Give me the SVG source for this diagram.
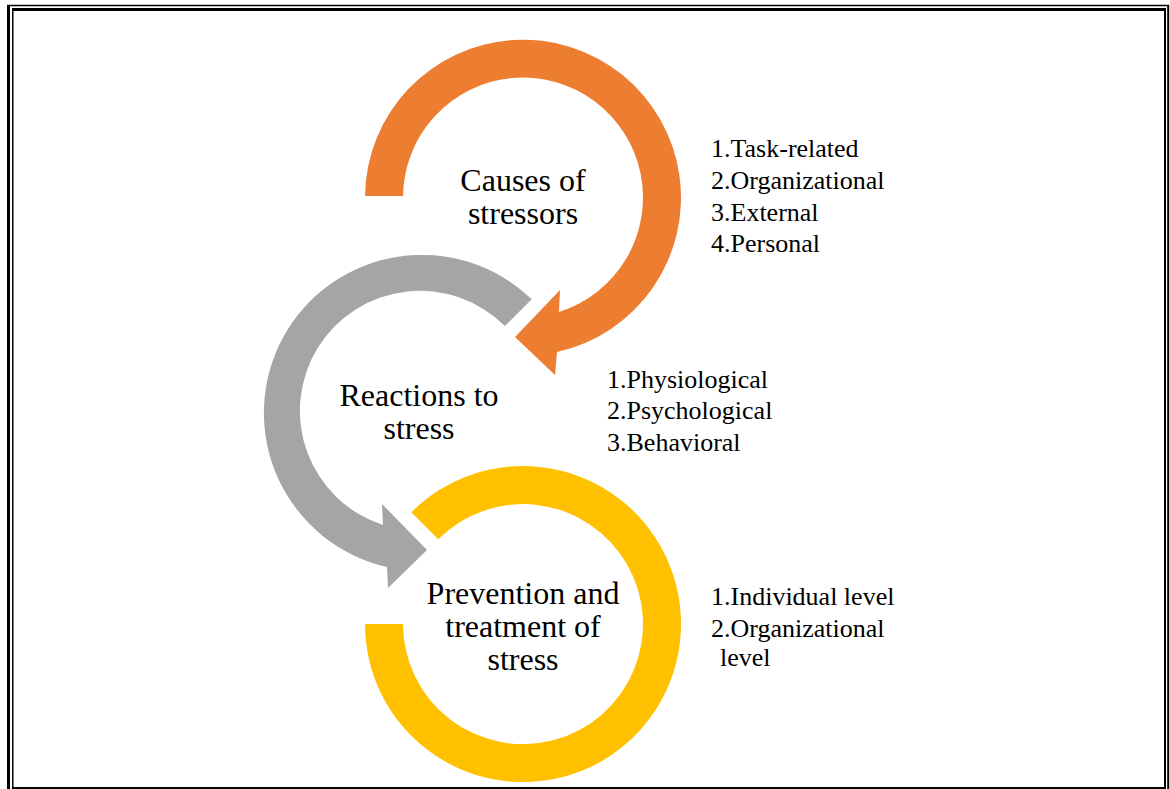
<svg xmlns="http://www.w3.org/2000/svg" width="1170" height="789" viewBox="0 0 1170 789">
<style>
.b{fill:none;stroke:#000}
.main{font-family:"Liberation Serif","Times New Roman",serif;font-size:32px;fill:#000;text-anchor:middle}
.lst{font-family:"Liberation Serif","Times New Roman",serif;font-size:26px;fill:#000}
</style>
<rect width="1170" height="789" fill="#fff"/>
<g id="border">
<path class="b" stroke-width="1.5" d="M7 5.5H1169"/>
<path class="b" stroke-width="3" d="M12 9.5H1166"/>
<path class="b" stroke-width="3" d="M8.5 5V789"/>
<path class="b" stroke-width="1.5" d="M12.8 8V789"/>
<path class="b" stroke-width="2" d="M1165 11V789"/>
<path class="b" stroke-width="2" d="M1168.2 5V789"/>
<path class="b" stroke-width="2" d="M12 788H1166"/>
</g>
<g id="connectors">
<path id="orange-arrow" fill="#ED7D31" d="M365 196 A158 158 0 1 1 557 352 L555 375 L515 337 L560 290 L559 312 A120 120 0 1 0 403 196 Z"/>
<path id="gray-arrow" fill="#A5A5A5" d="M531.7 299.3 A158 158 0 1 0 387 567 L388 588 L427 550 L382 504 L383 525 A120 120 0 1 1 504.9 326.1 Z"/>
<path id="yellow-ring" fill="#FFC000" d="M365 624 A158 158 0 1 0 411.3 512.3 L438.2 539.2 A120 120 0 1 1 403 624 Z"/>
</g>
<g id="node-causes">
<text class="main" x="523" y="191">Causes of</text>
<text class="main" x="523" y="224">stressors</text>
</g>
<g id="node-reactions">
<text class="main" x="419" y="406">Reactions to</text>
<text class="main" x="419" y="439">stress</text>
</g>
<g id="node-prevention">
<text class="main" x="523" y="604">Prevention and</text>
<text class="main" x="523" y="637">treatment of</text>
<text class="main" x="523" y="670">stress</text>
</g>
<g id="list-causes">
<text class="lst" x="711" y="157">1.Task-related</text>
<text class="lst" x="711" y="189">2.Organizational</text>
<text class="lst" x="711" y="221">3.External</text>
<text class="lst" x="711" y="252">4.Personal</text>
</g>
<g id="list-reactions">
<text class="lst" x="607" y="388">1.Physiological</text>
<text class="lst" x="607" y="419">2.Psychological</text>
<text class="lst" x="607" y="451">3.Behavioral</text>
</g>
<g id="list-prevention">
<text class="lst" x="711" y="605">1.Individual level</text>
<text class="lst" x="711" y="637">2.Organizational</text>
<text class="lst" x="720" y="666">level</text>
</g>
</svg>
